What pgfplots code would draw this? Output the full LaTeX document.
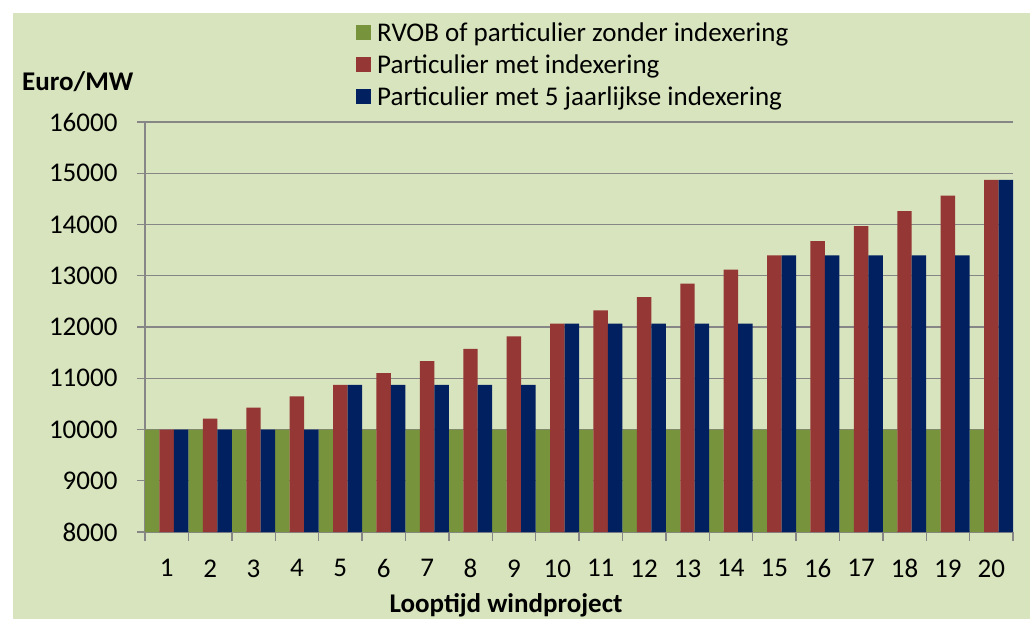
\documentclass[border=0pt]{standalone}
\usepackage{pgfplots}
\pgfplotsset{compat=1.18}
\usepackage{fontspec}
\setmainfont{Carlito}
\definecolor{bg}{HTML}{D7E4BD}
\definecolor{cg}{HTML}{77933C}
\definecolor{cr}{HTML}{953735}
\definecolor{cb}{HTML}{002060}
\definecolor{gr}{HTML}{868686}
\pgfplotstableread{
x green red blue
1 10000 10000 10000
2 10000 10211 10000
3 10000 10426 10000
4 10000 10646 10000
5 10000 10871 10871
6 10000 11100 10871
7 10000 11335 10871
8 10000 11574 10871
9 10000 11818 10871
10 10000 12068 12068
11 10000 12322 12068
12 10000 12582 12068
13 10000 12848 12068
14 10000 13119 12068
15 10000 13396 13396
16 10000 13678 13396
17 10000 13967 13396
18 10000 14261 13396
19 10000 14562 13396
20 10000 14870 14870
}\datatab
\begin{document}
\begin{tikzpicture}[x=1pt,y=1pt]
\fill[white] (0,0) rectangle (1030,619);
\fill[bg] (13,0) rectangle (1030,606);
\begin{axis}[
  at={(145pt,87pt)}, anchor=south west,
  scale only axis, width=868pt, height=410pt,
  xmin=0.5, xmax=20.5, ymin=8000, ymax=16000,
  ytick={8000,9000,...,16000},
  xtick={1,...,20},
  minor xtick={0.5,1.5,...,20.5},
  scaled y ticks=false,
  ymajorgrids, grid style={gr, line width=1.4pt},
  axis x line*=bottom, axis y line*=left,
  axis line style={gr, line width=1.4pt, -},
  tick align=outside, major tick length=8pt, minor tick length=9pt,
  major x tick style={draw=none},
  minor x tick style={gr, line width=1.4pt},
  ytick style={gr, line width=1.4pt},
  ybar, bar width=14.47pt,
  tick label style={font=\fontsize{27}{32}\selectfont, text=black},
  yticklabel style={xshift=-16pt},
  xticklabel style={yshift=-16pt},
  /pgf/number format/assume math mode=true,
  /pgf/number format/1000 sep={},
  legend style={at={(0.2431,1.246)}, anchor=north west, draw=none, fill=none,
    inner sep=0pt, font=\fontsize{27}{32}\selectfont,
    nodes={inner sep=1pt, text height=19pt, text depth=6pt},
    row sep=5pt, /tikz/every odd column/.append style={column sep=5pt}},
  legend cell align=left,
  legend image code/.code={\fill[#1] (0pt,-5pt) rectangle (15pt,10pt);},
]
\addplot[fill=cg, draw=none, bar shift=-14.47pt] table[x=x,y=green] {\datatab};
\addplot[fill=cr, draw=none, bar shift=0pt] table[x=x,y=red] {\datatab};
\addplot[fill=cb, draw=none, bar shift=14.47pt] table[x=x,y=blue] {\datatab};
\legend{RVOB of particulier zonder indexering, Particulier met indexering, Particulier met 5 jaarlijkse indexering}
\end{axis}
\node[anchor=base west, inner sep=0pt, font=\fontsize{27}{32}\selectfont\bfseries] at (22,528) {Euro/MW};
\node[anchor=base, inner sep=0pt, font=\fontsize{27}{32}\selectfont\bfseries] at (506,6.5) {Looptijd windproject};
\end{tikzpicture}
\end{document}
